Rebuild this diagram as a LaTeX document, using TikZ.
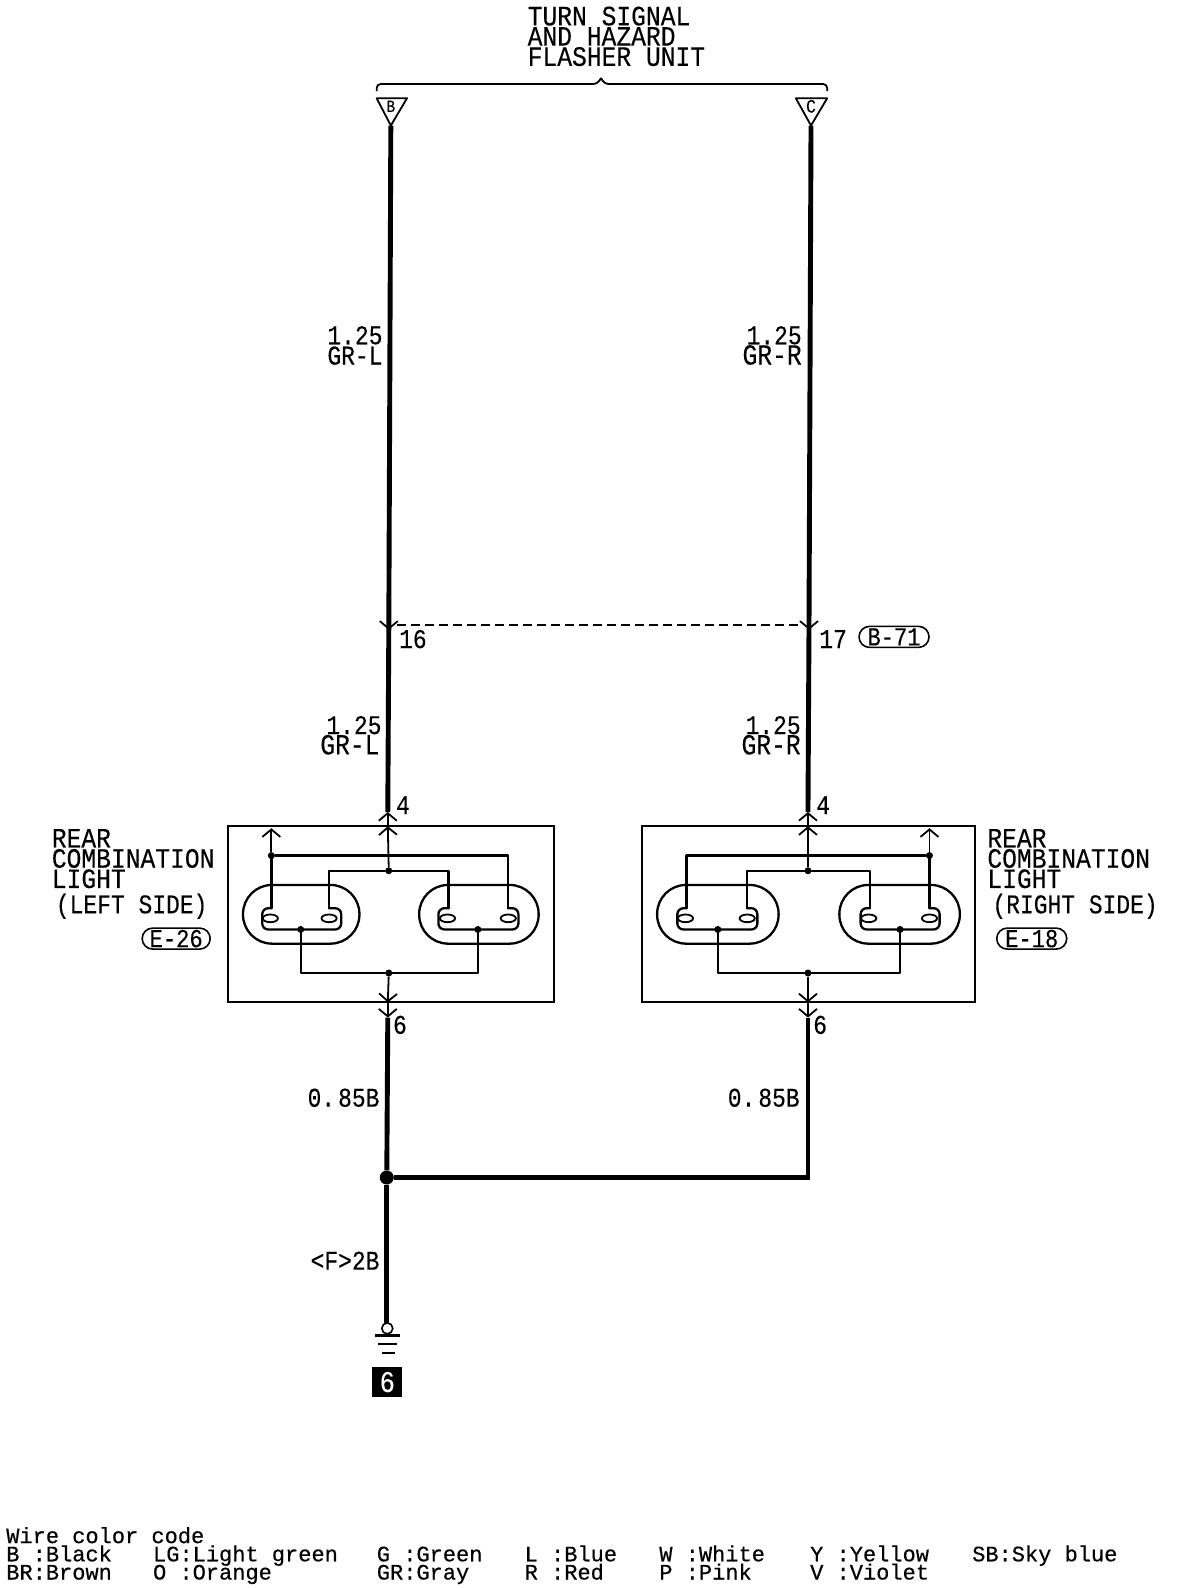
\documentclass[tikz,border=0pt]{standalone}
\usepackage{fontspec}
\setmainfont{Liberation Mono}
\newfontfamily\labfont[FakeStretch=.85,FakeBold=.25]{Liberation Mono}
\newfontfamily\bigfont[FakeStretch=.88,FakeBold=.25]{Liberation Mono}
\newfontfamily\codefont[FakeBold=.45]{Liberation Mono}
\usetikzlibrary{arrows.meta,shapes.misc}
\tikzset{
  heavy/.style={line width=4.9pt},
  midwire/.style={line width=2.3pt,line cap=round,line join=round},
  thinwire/.style={line width=1.8pt},
  boxline/.style={line width=1.8pt},
  barb/.style={-{Straight Barb[length=7.5pt,width=18pt,line width=1.8pt]}},
  junction/.style={circle,fill=black,inner sep=0pt,minimum size=#1},
  junction/.default=7pt,
  biglabel/.style={inner sep=0pt,anchor=base west,font=\bigfont\fontsize{28}{28}\selectfont},
  wirelabel/.style={inner sep=0pt,anchor=base east,font=\labfont\fontsize{27}{27}\selectfont},
  widelabel/.style={inner sep=0pt,anchor=base east,font=\labfont\fontsize{29}{29}\selectfont},
  pinlabel/.style={inner sep=0pt,anchor=base west,font=\labfont\fontsize{27}{27}\selectfont},
  codeline/.style={inner sep=0pt,anchor=base west,font=\codefont\fontsize{22}{22}\selectfont},
  connref/.style={draw,line width=1.6pt,rounded rectangle,inner xsep=0pt,inner ysep=0pt,
     minimum height=21pt,font=\labfont\fontsize{26}{26}\selectfont},
}
\newcommand{\lampbulb}[6]{%
  \draw[midwire,rounded corners=29pt] (#1,874) rectangle (#2,932);
  \draw[midwire,rounded corners=6pt] (#5,897) -- (#3,897) -- (#3,918) -- (#4,918) -- (#4,897) -- (#6,897);
  \draw[line width=1.8pt] (#5-1,907) ellipse [x radius=7.5,y radius=3.8];
  \draw[line width=1.8pt] (#6,907) ellipse [x radius=7.5,y radius=3.8];
}
\begin{document}
\begin{tikzpicture}[x=1.0125pt,y=-1.0125pt]
\useasboundingbox (0,0) rectangle (1169.4,1568.4);

% title
\node[biglabel] (t1) at (521,25) {TURN SIGNAL};
\node[biglabel] (t2) at (521,45) {AND HAZARD};
\node[biglabel] (t3) at (521,65) {FLASHER UNIT};

% brace
\draw[line width=1.8pt,rounded corners=4pt] (372,90) -- (372,83) -- (590,83) -- (593.6,77);
\draw[line width=1.8pt,rounded corners=4pt] (817,90) -- (817,83) -- (597,83) -- (593.6,77);

% flasher terminals
\coordinate (B) at (386,124);
\coordinate (C) at (801,124);
\draw[line width=1.8pt,line join=round] (372,97) -- (402,97) -- (B) -- cycle;
\draw[line width=1.8pt,line join=round] (786,97) -- (817,97) -- (C) -- cycle;
\node[inner sep=0pt,font=\labfont\fontsize{17}{17}\selectfont] (Bt) at (386,105) {B};
\node[inner sep=0pt,font=\labfont\fontsize{19}{19}\selectfont] (Ct) at (801,105) {C};

% named wire points
\coordinate (L16) at (384,622);
\coordinate (R17) at (799,622);
\coordinate (L4) at (383,802);
\coordinate (R4) at (798,802);
\coordinate (LT) at (383,816);
\coordinate (RT) at (798,816);
\coordinate (LB) at (383,990);
\coordinate (RB) at (798,990);
\coordinate (L6) at (383,1005);
\coordinate (R6) at (798,1005);
\coordinate (GND) at (382,1307);

% main wires
\draw[heavy] (B) -- (L16);
\draw[heavy] (C) -- (R17);
\draw[thinwire,barb] (384,608) -- (L16);
\draw[thinwire,barb] (799,608) -- (R17);
\draw[heavy] (L16) -- (L4);
\draw[heavy] (R17) -- (R4);
\draw[line width=1.9pt,dash pattern=on 9pt off 5pt] (392,617) -- (792,617);

% boxes
\draw[boxline] (225,816) rectangle (547,990);
\draw[boxline] (634,816) rectangle (963,990);

% left light internals
\node[junction] (lc) at (384,860) {};
\node[junction] (ls) at (268,845) {};
\node[junction] (lb) at (384,961) {};
\node[junction] (lf1) at (297,918) {};
\node[junction] (lf2) at (472,918) {};
\draw[thinwire,barb] (ls) -- (268,818);
\draw[thinwire,barb] (lc) -- (LT);
\draw[thinwire,barb] (LT) -- (L4);
\draw[midwire] (268,845) -- (268,897);
\draw[midwire] (ls) -- (502,845) -- (502,897);
\draw[midwire] (325,897) -- (325,860) -- (lc) -- (443,860) -- (443,897);
\draw[midwire] (lf1) -- (297,961) -- (lb) -- (472,961) -- (lf2);
\draw[thinwire,barb] (lb) -- (LB);
\draw[thinwire,barb] (LB) -- (L6);
\lampbulb{240}{355}{259}{337}{268}{325}
\lampbulb{414}{532}{433}{512}{443}{502}

% right light internals
\node[junction] (rc) at (798,860) {};
\node[junction] (rs) at (918,845) {};
\node[junction] (rb) at (798,961) {};
\node[junction] (rf1) at (709,918) {};
\node[junction] (rf2) at (889,918) {};
\draw[thinwire,barb] (rs) -- (918,818);
\draw[thinwire,barb] (rc) -- (RT);
\draw[thinwire,barb] (RT) -- (R4);
\draw[midwire] (918,845) -- (918,897);
\draw[midwire] (rs) -- (678,845) -- (678,897);
\draw[midwire] (738,897) -- (738,860) -- (rc) -- (859,860) -- (859,897);
\draw[midwire] (709,918) -- (709,961) -- (rb) -- (889,961) -- (889,918);
\draw[thinwire,barb] (rb) -- (RB);
\draw[thinwire,barb] (RB) -- (R6);
\lampbulb{649}{769}{669}{748}{678}{738}
\lampbulb{829}{948}{850}{928}{859}{918}

% lower wires
\node[junction=14pt] (J) at (382,1163) {};
\draw[heavy] (L6) -- (J);
\draw[heavy] (R6) -- (798,1163) -- (J);
\draw[heavy] (J) -- (GND);

% ground
\node[draw,circle,line width=1.6pt,fill=white,inner sep=0pt,minimum size=11pt] (gc) at (382.5,1312) {};
\draw[line width=2.4pt] (370.5,1319) -- (395.5,1319);
\draw[line width=2.4pt] (373.5,1327.5) -- (392.5,1327.5);
\draw[line width=2.4pt] (377,1336) -- (390,1336);
\node[fill=black,text=white,inner sep=0pt,minimum size=30pt,font=\labfont\fontsize{30}{30}\selectfont] (g6) at (382.5,1365) {6};

% wire labels
\node[wirelabel] (w1) at (378,340) {1.25};
\node[wirelabel] (w2) at (378,360) {GR-L};
\node[wirelabel] (w3) at (792,340) {1.25};
\node[widelabel] (w4) at (792,360) {GR-R};
\node[wirelabel] (w5) at (377,725) {1.25};
\node[widelabel] (w6) at (375,745) {GR-L};
\node[wirelabel] (w7) at (791,725) {1.25};
\node[widelabel] (w8) at (791,745) {GR-R};
\node[wirelabel] (w9) at (375,1093) {0.\hspace{3pt}85B};
\node[wirelabel] (w10) at (790,1093) {0.\hspace{3pt}85B};
\node[wirelabel] (w11) at (375,1254) {<F>2B};

% pin labels
\node[pinlabel] (p16) at (394,640) {16};
\node[pinlabel] (p17) at (809,640) {17};
\node[connref,minimum width=70pt] (b71) at (883,629) {B-71};
\node[pinlabel] (p4l) at (391,804) {4};
\node[pinlabel] (p4r) at (806,804) {4};
\node[pinlabel] (p6l) at (388,1021) {6};
\node[pinlabel] (p6r) at (803,1021) {6};

% component labels, left
\node[biglabel] (ll1) at (51,837) {REAR};
\node[biglabel] (ll2) at (51,857) {COMBINATION};
\node[biglabel] (ll3) at (51,877) {LIGHT};
\node[pinlabel] (ll4) at (55,902) {(LEFT SIDE)};
\node[connref,minimum width=68pt] (e26) at (174,927) {E-26};
% component labels, right
\node[biglabel] (rl1) at (975,837) {REAR};
\node[biglabel] (rl2) at (975,857) {COMBINATION};
\node[biglabel] (rl3) at (975,877) {LIGHT};
\node[pinlabel] (rl4) at (980,902) {(RIGHT SIDE)};
\node[connref,minimum width=70pt] (e18) at (1019,927) {E-18};

% colour code
\node[codeline] (c0) at (6,1524) {Wire color code};
\node[codeline] (c1) at (6,1542) {B :Black};
\node[codeline] (c2) at (6,1560) {BR:Brown};
\node[codeline] (c3) at (151,1542) {LG:Light green};
\node[codeline] (c4) at (151,1560) {O :Orange};
\node[codeline] (c5) at (372,1542) {G :Green};
\node[codeline] (c6) at (372,1560) {GR:Gray};
\node[codeline] (c7) at (518,1542) {L :Blue};
\node[codeline] (c8) at (518,1560) {R :Red};
\node[codeline] (c9) at (651,1542) {W :White};
\node[codeline] (c10) at (651,1560) {P :Pink};
\node[codeline] (c11) at (800,1542) {Y :Yellow};
\node[codeline] (c12) at (800,1560) {V :Violet};
\node[codeline] (c13) at (960,1542) {SB:Sky blue};
\end{tikzpicture}
\end{document}
